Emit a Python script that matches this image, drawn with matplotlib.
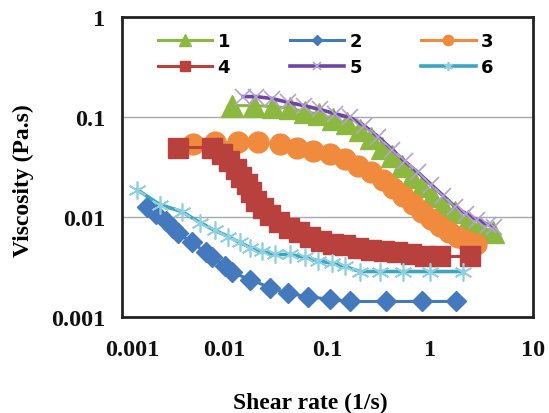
import matplotlib
matplotlib.use("Agg")
import matplotlib.pyplot as plt
from matplotlib.ticker import FixedLocator, FixedFormatter, NullLocator
from matplotlib.transforms import ScaledTranslation

# ---- data ----
x1 = [0.0118, 0.0193, 0.0295, 0.0431, 0.0604, 0.0826, 0.113, 0.155, 0.207, 0.265, 0.339,
      0.425, 0.531, 0.664, 0.832, 1.04, 1.33, 1.74, 2.33, 3.05, 4.08]
y1 = [0.130, 0.130, 0.127, 0.122, 0.1135, 0.106, 0.0966, 0.0861, 0.0733, 0.061, 0.0495,
      0.0403, 0.032, 0.0254, 0.0202, 0.0164, 0.0133, 0.0111, 0.0092, 0.0080, 0.00716]

x2 = [0.00175, 0.00214, 0.00268, 0.00313, 0.00351, 0.0048, 0.00657, 0.0075, 0.0100, 0.0118,
      0.0176, 0.0275, 0.0413, 0.0646, 0.106, 0.166, 0.371, 0.83, 1.78]
y2 = [0.0127, 0.0108, 0.0092, 0.00785, 0.00684, 0.00556, 0.00442, 0.00394, 0.0032, 0.00279,
      0.00237, 0.00197, 0.00172, 0.0016, 0.0015, 0.00143, 0.00143, 0.00143, 0.00143]

x3 = [0.00491, 0.00804, 0.0135, 0.0211, 0.0345, 0.0505, 0.0723, 0.106, 0.148, 0.198, 0.265,
      0.347, 0.434, 0.543, 0.679, 0.832, 1.02, 1.24, 1.52, 1.86, 2.28, 2.79]
y3 = [0.0531, 0.0556, 0.0556, 0.0556, 0.0531, 0.0495, 0.0452, 0.0422, 0.0376, 0.0327, 0.0285,
      0.0237, 0.0197, 0.0164, 0.0136, 0.0113, 0.00966, 0.00822, 0.00716, 0.00638, 0.00582, 0.00543]

x4 = [0.00351, 0.0075, 0.0094, 0.0110, 0.0128, 0.0144, 0.0165, 0.0180, 0.0201, 0.0236, 0.0275,
      0.0337, 0.0422, 0.0528, 0.0676, 0.0865, 0.113, 0.148, 0.198, 0.265, 0.355, 0.474, 0.65,
      0.89, 1.24, 2.44]
y4 = [0.0495, 0.0495, 0.0422, 0.0359, 0.0305, 0.0254, 0.0216, 0.0176, 0.0146, 0.0124, 0.0104,
      0.0090, 0.00785, 0.0070, 0.00638, 0.00582, 0.00543, 0.00519, 0.00495, 0.00473, 0.00452,
      0.00442, 0.00422, 0.00412, 0.00403, 0.00403]

x5 = [0.0151, 0.0201, 0.0288, 0.0413, 0.059, 0.0845, 0.118, 0.166, 0.226, 0.31, 0.425, 0.567,
      0.76, 1.02, 1.33, 1.74, 2.23, 2.85, 3.65, 4.17]
y5 = [0.160, 0.160, 0.153, 0.140, 0.130, 0.119, 0.108, 0.0989, 0.0822, 0.0638, 0.0473, 0.0359,
      0.0279, 0.0211, 0.0164, 0.0127, 0.0108, 0.0094, 0.0084, 0.0080]

x6 = [0.0014, 0.00234, 0.00384, 0.00574, 0.00804, 0.0108, 0.0141, 0.0176, 0.0231, 0.0308, 0.0431,
      0.0604, 0.081, 0.111, 0.148, 0.207, 0.324, 0.543, 1.0, 2.08]
y6 = [0.0188, 0.0133, 0.0113, 0.0088, 0.00733, 0.00638, 0.00556, 0.00495, 0.00452, 0.00422,
      0.00422, 0.00394, 0.00367, 0.00343, 0.0032, 0.00285, 0.00285, 0.00285, 0.00285, 0.00285]

series_labels = ["1", "2", "3", "4", "5", "6"]
x_ticks = [0.001, 0.01, 0.1, 1, 10]
x_ticklabels = ["0.001", "0.01", "0.1", "1", "10"]
y_ticks = [0.001, 0.01, 0.1, 1]
y_ticklabels = ["0.001", "0.01", "0.1", "1"]

# ---- figure ----
plt.rcParams['font.family'] = ['Liberation Serif', 'DejaVu Serif']
fig = plt.figure(figsize=(5.49, 4.14), dpi=100)
ax = fig.add_axes([122 / 549, 1 - 318 / 414, 411 / 549, 300 / 414])
ax.set_xscale('log')
ax.set_yscale('log')
ax.set_xlim(0.001, 10)
ax.set_ylim(0.001, 1)

green = '#8cb83f'
blue = '#4479bd'
orange = '#f08a3c'
red = '#b8413e'
purple = '#6e45a6'
purple_m = '#b3a2d6'
cyan = '#3aa6c2'
cyan_m = '#8fd0e0'

handles = []
handles += ax.plot(x1, y1, color=green, lw=2.2, marker='^', ms=16, mec=green, mfc=green, label=series_labels[0], zorder=3)
handles += ax.plot(x2, y2, color=blue, lw=2.2, marker='D', ms=10, mec=blue, mfc=blue, label=series_labels[1], zorder=3)
handles += ax.plot(x3, y3, color=orange, lw=2.2, marker='o', ms=15, mec=orange, mfc=orange, label=series_labels[2], zorder=3)
handles += ax.plot(x4, y4, color=red, lw=2.2, marker='s', ms=14, mec=red, mfc=red, label=series_labels[3], zorder=3)
handles += ax.plot(x5, y5, color=purple, lw=2.6, marker='x', ms=12, mec=purple_m, mew=1.2, label=series_labels[4], zorder=3)
handles += ax.plot(x6, y6, color=cyan, lw=2.6, marker=(6, 2, 0), ms=13, mec=cyan_m, mew=1.2, label=series_labels[5], zorder=3)

# gridlines
for v in (0.01, 0.1):
    ax.axhline(v, color='#a8a8a8', lw=1.0, zorder=1)

for s in ax.spines.values():
    s.set_linewidth(2.0)
    s.set_color('#222222')

ax.xaxis.set_major_locator(FixedLocator(x_ticks))
ax.xaxis.set_major_formatter(FixedFormatter(x_ticklabels))
ax.yaxis.set_major_locator(FixedLocator(y_ticks))
ax.yaxis.set_major_formatter(FixedFormatter(y_ticklabels))
ax.xaxis.set_minor_locator(NullLocator())
ax.yaxis.set_minor_locator(NullLocator())
ax.tick_params(axis='both', length=0, labelsize=17.5, colors='#111111')
ax.tick_params(axis='x', pad=16)
ax.tick_params(axis='y', pad=12)
for lab in ax.get_xticklabels() + ax.get_yticklabels():
    lab.set_fontweight('bold')

fig.canvas.draw()
first = ax.get_xticklabels()[0]
first.set_transform(first.get_transform() + ScaledTranslation(10 / 100, 0, fig.dpi_scale_trans))

ax.set_xlabel('Shear rate (1/s)', fontsize=17, fontweight='bold')
ax.xaxis.set_label_coords((310 - 122) / 411, -(403 - 318) / 300)
ax.xaxis.label.set_va('center')
ax.set_ylabel('Viscosity (Pa.s)', fontsize=17, fontweight='bold')
ax.yaxis.set_label_coords((23 - 122) / 411, (318 - 181) / 300)
ax.yaxis.label.set_va('center')

# legend: row-major order 1 2 3 / 4 5 6 -> matplotlib fills column-major
order = [0, 3, 1, 4, 2, 5]
leg = ax.legend([handles[i] for i in order], [series_labels[i] for i in order],
                ncol=3, loc='upper left', bbox_to_anchor=((158 - 122) / 411, (318 - 33) / 300),
                frameon=False, borderaxespad=0, borderpad=0, handlelength=3.0,
                handletextpad=0.3, columnspacing=3.3, labelspacing=0.45, markerscale=0.5,
                prop={'family': 'DejaVu Sans', 'weight': 'bold', 'size': 13})

fig.savefig('out.png', dpi=100)
